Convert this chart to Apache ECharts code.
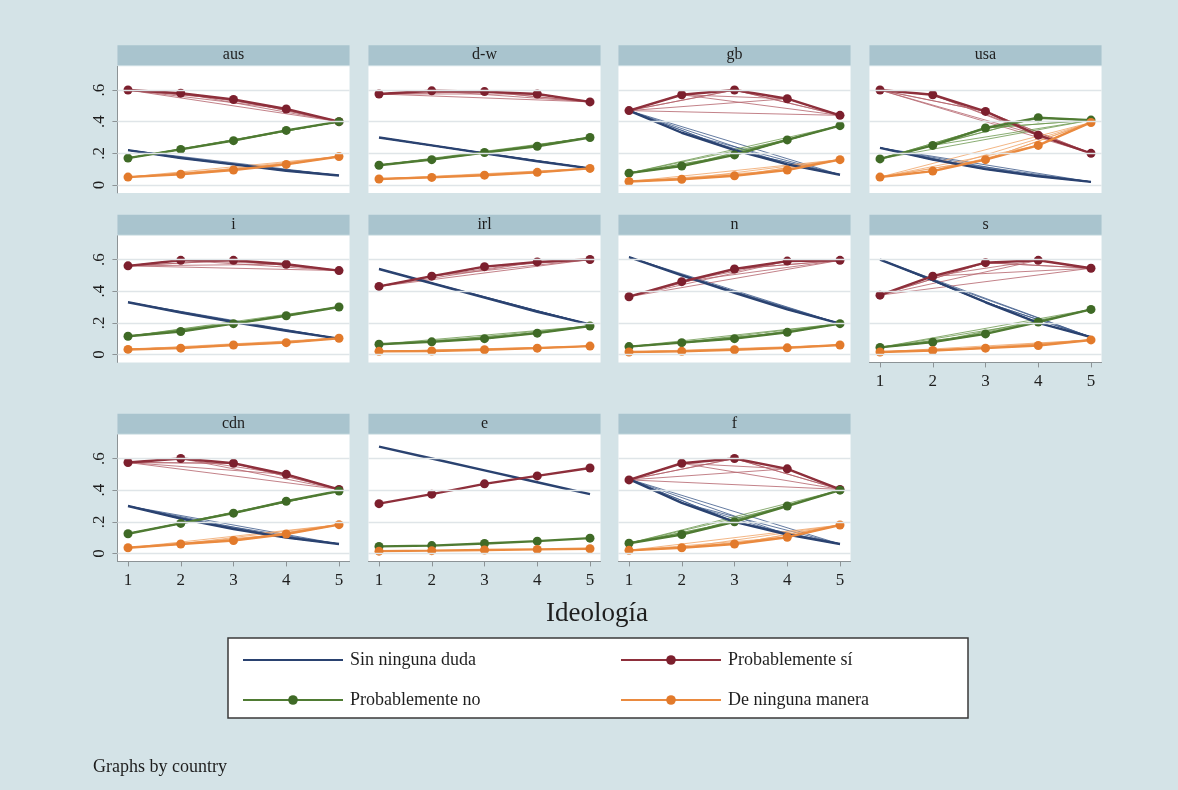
<!DOCTYPE html>
<html>
<head>
<meta charset="utf-8">
<script src="https://cdn.jsdelivr.net/npm/echarts@6/dist/echarts.min.js"></script>
<style>
  html, body { margin: 0; padding: 0; background: #ffffff; }
  #chart { width: 1178px; height: 790px; }
</style>
</head>
<body>
<div id="chart"></div>
<script>
// Predicted probabilities by ideology (1 = left ... 5 = right), one panel per country
const countries = ['aus', 'd-w', 'gb', 'usa', 'i', 'irl', 'n', 's', 'cdn', 'e', 'f'];
const ideology = [1, 2, 3, 4, 5];
const categories = ['Sin ninguna duda', 'Probablemente sí', 'Probablemente no', 'De ninguna manera'];
const yTickValues = [0, 0.2, 0.4, 0.6];

// rows follow the order of `countries`
const sinNingunaDuda = [
  [0.22, 0.17, 0.13, 0.09, 0.06],
  [0.30, 0.25, 0.20, 0.15, 0.105],
  [0.47, 0.33, 0.22, 0.13, 0.065],
  [0.235, 0.16, 0.10, 0.055, 0.02],
  [0.33, 0.265, 0.205, 0.15, 0.10],
  [0.54, 0.45, 0.36, 0.27, 0.19],
  [0.615, 0.50, 0.39, 0.285, 0.195],
  [0.60, 0.47, 0.33, 0.20, 0.11],
  [0.30, 0.22, 0.155, 0.10, 0.06],
  [0.675, 0.60, 0.525, 0.45, 0.375],
  [0.47, 0.32, 0.20, 0.12, 0.06]
];
const probablementeSi = [
  [0.60, 0.58, 0.54, 0.48, 0.40],
  [0.575, 0.595, 0.59, 0.575, 0.525],
  [0.47, 0.57, 0.60, 0.545, 0.44],
  [0.60, 0.57, 0.465, 0.315, 0.20],
  [0.56, 0.595, 0.595, 0.57, 0.53],
  [0.43, 0.495, 0.555, 0.585, 0.60],
  [0.365, 0.46, 0.54, 0.59, 0.595],
  [0.375, 0.495, 0.58, 0.595, 0.545],
  [0.575, 0.60, 0.57, 0.50, 0.405],
  [0.315, 0.375, 0.44, 0.49, 0.54],
  [0.465, 0.57, 0.60, 0.535, 0.405]
];
const probablementeNo = [
  [0.17, 0.225, 0.28, 0.345, 0.40],
  [0.125, 0.16, 0.205, 0.245, 0.30],
  [0.075, 0.12, 0.19, 0.285, 0.375],
  [0.165, 0.25, 0.36, 0.425, 0.41],
  [0.115, 0.145, 0.195, 0.245, 0.30],
  [0.065, 0.08, 0.10, 0.135, 0.18],
  [0.05, 0.075, 0.10, 0.14, 0.195],
  [0.045, 0.078, 0.13, 0.205, 0.285],
  [0.125, 0.19, 0.255, 0.33, 0.395],
  [0.045, 0.05, 0.063, 0.078, 0.097],
  [0.065, 0.12, 0.20, 0.30, 0.40]
];
const deNingunaManera = [
  [0.05, 0.068, 0.095, 0.13, 0.18],
  [0.038, 0.048, 0.062, 0.08, 0.105],
  [0.022, 0.036, 0.058, 0.095, 0.16],
  [0.05, 0.088, 0.16, 0.25, 0.395],
  [0.032, 0.04, 0.06, 0.075, 0.103],
  [0.02, 0.022, 0.03, 0.04, 0.053],
  [0.016, 0.02, 0.03, 0.042, 0.06],
  [0.016, 0.025, 0.04, 0.057, 0.092],
  [0.036, 0.06, 0.082, 0.123, 0.182],
  [0.015, 0.018, 0.022, 0.026, 0.03],
  [0.02, 0.036, 0.06, 0.103, 0.18]
];

// Extra connections between ideology levels (unsorted connect of the predictions)
const fanPaths = [[1, 5], [1, 2, 5], [1, 3, 5], [1, 4, 5], [1, 2, 3, 5], [1, 3, 4, 5], [1, 2, 4, 5]];
const singleLineCountries = ['e'];
const xAxisCountries = ['s', 'cdn', 'e', 'f'];

const seriesValues = [sinNingunaDuda, probablementeSi, probablementeNo, deNingunaManera];

const FONT = 'Liberation Serif';
const TEXT = '#1e1e1e';
const BG = '#d4e3e7';
const STRIP = '#a9c4ce';
const AXIS = '#8c9396';
const lineColors = ['#2a4270', '#8e2f3b', '#4f7b33', '#ea8a3f'];
const fanColors = ['#3d5a8a', '#b4636c', '#6d9850', '#f0a466'];
const markerColors = ['#2a4270', '#7c1f2d', '#3f6a26', '#e27a2b'];

// panel geometry
const colX1 = [128, 379, 629, 880];
const rowZero = [185, 354.5, 553.5];
const PX = 52.75;   // pixels per ideology step
const PY = 158.3;   // pixels per unit of probability
const X_MIN = 0.8, X_MAX = 5.2, Y_MIN = -0.05, Y_MAX = 0.75;

const grids = [], xAxes = [], yAxes = [], series = [], graphics = [];

graphics.push({ type: 'rect', shape: { x: 0, y: 0, width: 1178, height: 790 }, style: { fill: BG }, z: -10, silent: true });

countries.forEach((country, i) => {
  const row = Math.floor(i / 4), col = i % 4;
  const left = colX1[col] + (X_MIN - 1) * PX;
  const width = (X_MAX - X_MIN) * PX;
  const top = rowZero[row] - Y_MAX * PY;
  const height = (Y_MAX - Y_MIN) * PY;

  grids.push({ left, top, width, height, show: true, backgroundColor: '#ffffff', borderWidth: 0 });

  xAxes.push({
    gridIndex: i, type: 'value', min: X_MIN, max: X_MAX,
    show: xAxisCountries.includes(country),
    axisLine: { show: true, onZero: false, lineStyle: { color: AXIS, width: 1 } },
    axisTick: { show: true, customValues: ideology, length: 5, lineStyle: { color: AXIS } },
    axisLabel: { customValues: ideology, fontSize: 17, fontFamily: FONT, color: TEXT, margin: 11 },
    splitLine: { show: false }
  });

  yAxes.push({
    gridIndex: i, type: 'value', min: Y_MIN, max: Y_MAX,
    show: col === 0,
    axisLine: { show: true, onZero: false, lineStyle: { color: AXIS, width: 1 } },
    axisTick: { show: true, customValues: yTickValues, length: 5, lineStyle: { color: AXIS } },
    axisLabel: {
      customValues: yTickValues, rotate: 90, fontSize: 17, fontFamily: FONT, color: TEXT, margin: 9,
      formatter: v => (v === 0 ? '0' : String(v).replace(/^0/, ''))
    },
    splitLine: { show: false }
  });

  // title strip
  graphics.push({ type: 'rect', shape: { x: left, y: top - 21, width, height: 20 }, style: { fill: STRIP }, silent: true });
  graphics.push({
    type: 'text', x: left + width / 2, y: top - 11,
    style: { text: country, fill: TEXT, font: `16px "${FONT}"`, textAlign: 'center', textVerticalAlign: 'middle' },
    silent: true
  });

  // horizontal grid lines
  series.push({
    type: 'line', name: 'grid', xAxisIndex: i, yAxisIndex: i, data: [], silent: true, z: 1,
    markLine: {
      silent: true, symbol: ['none', 'none'], label: { show: false }, animation: false,
      lineStyle: { color: '#dfe5e8', width: 1.3, type: 'solid' },
      emphasis: { disabled: true },
      data: yTickValues.map(v => ({ yAxis: v }))
    }
  });

  seriesValues.forEach((table, k) => {
    const vals = table[i];
    if (!singleLineCountries.includes(country)) {
      const fanData = [];
      fanPaths.forEach(path => {
        path.forEach(x => fanData.push([x, vals[x - 1]]));
        fanData.push(['-', '-']);
      });
      series.push({
        type: 'line', name: 'fan', xAxisIndex: i, yAxisIndex: i, data: fanData,
        symbol: 'none', showSymbol: false, connectNulls: false, silent: true, z: 2,
        lineStyle: { width: 1, color: fanColors[k], opacity: 0.8 }
      });
    }
    series.push({
      type: 'line', name: categories[k], xAxisIndex: i, yAxisIndex: i,
      data: ideology.map((x, j) => [x, vals[j]]),
      symbol: k === 0 ? 'none' : 'circle', symbolSize: 9, showSymbol: k !== 0, z: 3,
      itemStyle: { color: markerColors[k] },
      lineStyle: { width: 2.4, color: lineColors[k] },
      emphasis: { disabled: true }
    });
  });
});

// x-axis title
graphics.push({
  type: 'text', x: 597, y: 614,
  style: { text: 'Ideología', fill: TEXT, font: `27px "${FONT}"`, textAlign: 'center', textVerticalAlign: 'middle' },
  silent: true
});
// legend frame
graphics.push({ type: 'rect', shape: { x: 228, y: 638, width: 740, height: 80 }, style: { fill: '#ffffff', stroke: '#3a3a3a', lineWidth: 1.5 }, z: -5, silent: true });
// note
graphics.push({
  type: 'text', x: 93, y: 767,
  style: { text: 'Graphs by country', fill: TEXT, font: `18px "${FONT}"`, textAlign: 'left', textVerticalAlign: 'middle' },
  silent: true
});

const legendCommon = {
  orient: 'vertical', itemWidth: 100, itemHeight: 12, itemGap: 22, top: 646,
  selectedMode: false,
  textStyle: { fontSize: 18, fontFamily: FONT, color: TEXT, padding: [0, 0, 0, 2] }
};

const chart = echarts.init(document.getElementById('chart'), null, { renderer: 'canvas' });
chart.setOption({
  animation: false,
  backgroundColor: BG,
  grid: grids,
  xAxis: xAxes,
  yAxis: yAxes,
  legend: [
    Object.assign({}, legendCommon, {
      left: 237,
      data: [{ name: categories[0], itemStyle: { opacity: 0 } }, categories[2]]
    }),
    Object.assign({}, legendCommon, { left: 615, data: [categories[1], categories[3]] })
  ],
  graphic: graphics,
  series
});
</script>
</body>
</html>
